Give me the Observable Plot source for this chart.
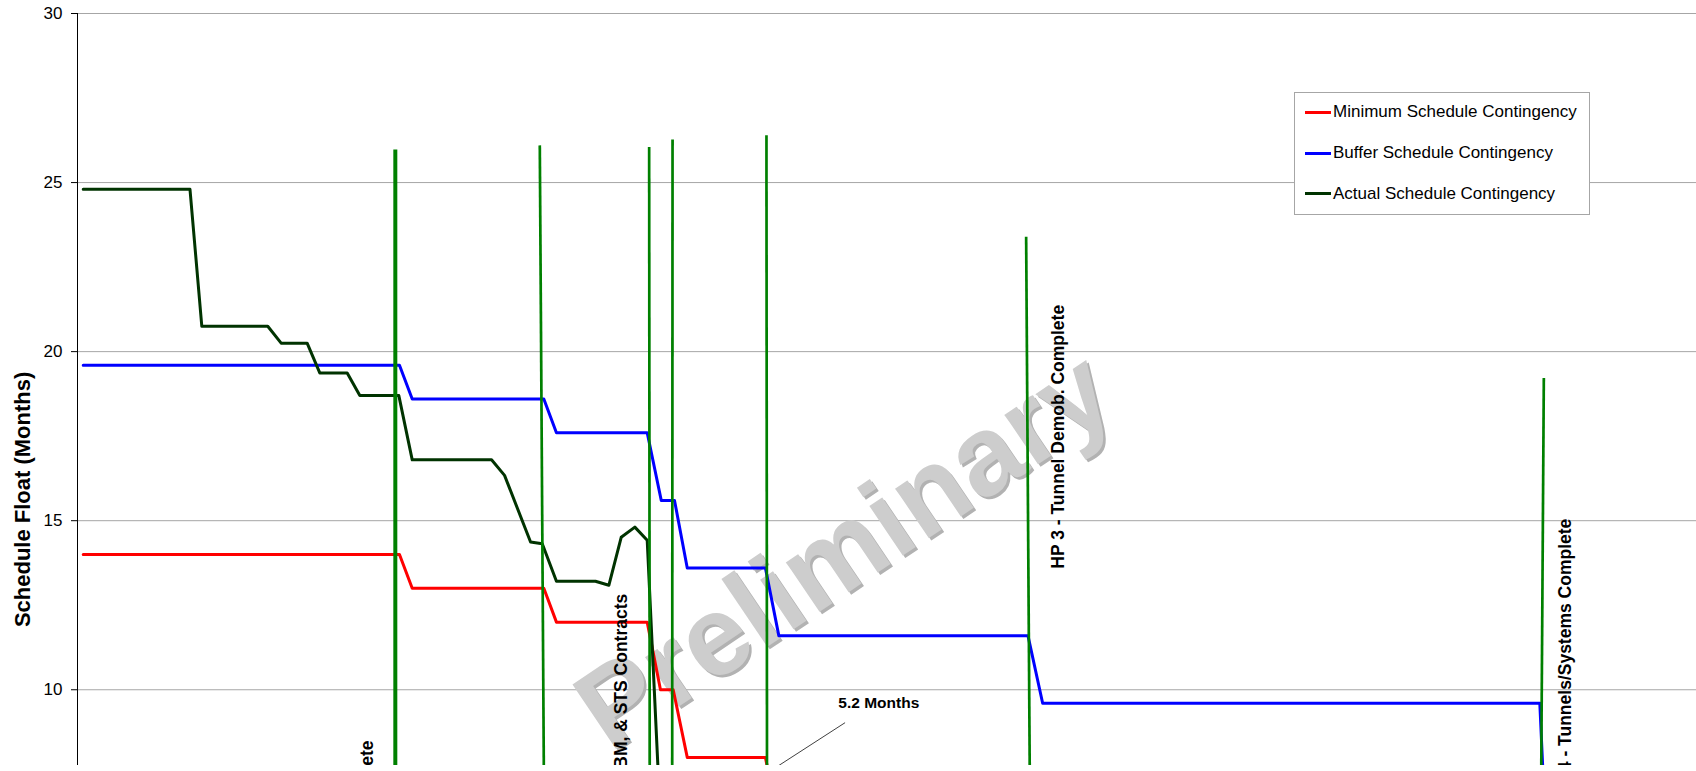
<!DOCTYPE html>
<html><head><meta charset="utf-8">
<script src="https://cdn.jsdelivr.net/npm/d3@7"></script>
<script src="https://cdn.jsdelivr.net/npm/@observablehq/plot@0.6"></script>
<style>
html,body{margin:0;padding:0;background:#fff;}
#wrap{position:relative;width:1696px;height:771px;overflow:hidden;font-family:"Liberation Sans",Arial,sans-serif;}
#legend{position:absolute;left:1294px;top:92px;width:296px;height:123px;box-sizing:border-box;border:1px solid #a6a6a6;background:#fff;}
.item{position:absolute;left:10px;height:20px;display:flex;align-items:center;font-size:17px;color:#000;white-space:nowrap;}
.sw{width:26px;height:3px;margin-right:2px;}
</style></head><body><div id="wrap"><div id="legend"></div></div>
<script>
// ---- data (x = period index, y = schedule float in months) ----
const legendLabels = ["Minimum Schedule Contingency", "Buffer Schedule Contingency", "Actual Schedule Contingency"];
const seriesColors = ["#ff0000", "#0000ff", "#003300"];

const minX = [0.44, 24.76, 25.74, 35.86, 36.83, 43.81, 44.83, 45.81, 46.89, 52.90, 53.93];
const minY = [14.0, 14.0, 13.0, 13.0, 12.0, 12.0, 10.0, 10.0, 8.0, 8.0, 6.0];

const bufX = [0.44, 24.76, 25.74, 35.86, 36.83, 43.81, 44.89, 45.91, 46.89, 52.90, 53.93, 73.09, 74.22, 112.45, 113.45];
const bufY = [19.6, 19.6, 18.6, 18.6, 17.6, 17.6, 15.6, 15.6, 13.6, 13.6, 11.6, 11.6, 9.6, 9.6, 1.2];

const actX = [0.44, 8.65, 9.56, 14.63, 15.66, 17.66, 18.63, 20.74, 21.71, 24.71, 25.74, 31.84, 32.84, 34.84, 35.74, 36.83, 39.83, 40.86, 41.81, 42.86, 43.81, 44.81];
const actY = [24.8, 24.8, 20.75, 20.75, 20.25, 20.25, 19.37, 19.37, 18.7, 18.7, 16.8, 16.8, 16.34, 14.37, 14.32, 13.21, 13.21, 13.09, 14.51, 14.81, 14.42, 6.3];

// milestone marker lines (top point and bottom point)
const msTopX = [24.44, 35.55, 43.96, 45.76, 52.98, 72.95, 112.76];
const msTopY = [25.98, 26.10, 26.05, 26.27, 26.40, 23.40, 19.22];
const msBotX = [24.44, 35.99, 44.02, 45.72, 53.04, 73.36, 112.43];
const msBotY = [0, 0, 0, 0, 0, 0, 0];

// milestone labels
const labelText = ["HP 1 - Excavation Complete", "Award TBM, & STS Contracts", "HP 3 - Tunnel Demob. Complete", "HP 4 - Tunnels/Systems Complete"];
const labelX = [22.28, 41.83, 75.41, 114.41];
const labelY = [8.50, 12.84, 13.58, 15.06];
const labelAnchor = ["end", "end", "start", "end"];

// annotation
const noteText = "5.2 Months";
const noteX = 61.62, noteY = 9.61;
const leaderX = [59.0, 49.06];
const leaderY = [9.02, 6.55];

const watermarkText = "Preliminary";
const watermarkX = 59.0, watermarkY = 14.1;

const yTicks = [10, 15, 20, 25, 30];
const yTitle = "Schedule Float (Months)";
const yTitleY = 15.63;

// ---- build ----
const toRows = (xs, ys, name) => xs.map((x, i) => ({x, y: ys[i], name}));
const minRows = toRows(minX, minY, legendLabels[0]);
const bufRows = toRows(bufX, bufY, legendLabels[1]);
const actRows = toRows(actX, actY, legendLabels[2]);
const msRows = msTopX.map((x, i) => ({x1: x, y1: msTopY[i], x2: msBotX[i], y2: msBotY[i], w: i === 0 ? 4 : 2.7}));
const labelRows = labelText.map((t, i) => ({t, x: labelX[i], y: labelY[i], a: labelAnchor[i]}));
const leaderRows = leaderX.map((x, i) => ({x, y: leaderY[i]}));

const font = "'Liberation Sans', Arial, sans-serif";

const chart = Plot.plot({
  width: 1696, height: 771,
  marginLeft: 77, marginRight: 0, marginTop: 13, marginBottom: 6,
  x: {domain: [0, 124.5], axis: null},
  y: {domain: [7.76, 30], axis: null},
  style: {fontFamily: font, fontSize: "17px", background: "white"},
  marks: [
    Plot.ruleY(yTicks, {stroke: "#a6a6a6", strokeWidth: 1}),
    Plot.text([watermarkText], {x: watermarkX, y: watermarkY, text: d => d, rotate: -34, fontSize: 113, fontWeight: "bold", fill: "#b2b2b2", dx: 2.5, dy: 2.5, clip: true}),
    Plot.text([watermarkText], {x: watermarkX, y: watermarkY, text: d => d, rotate: -34, fontSize: 113, fontWeight: "bold", fill: "#cdcdcd", clip: true}),
    Plot.ruleX([0], {stroke: "black", strokeWidth: 1}),
    Plot.axisY({ticks: yTicks, tickSize: 6, tickPadding: 9, fontSize: 17, label: null, tickFormat: d => String(d)}),
    Plot.line(minRows, {x: "x", y: "y", stroke: seriesColors[0], strokeWidth: 3, clip: true}),
    Plot.line(bufRows, {x: "x", y: "y", stroke: seriesColors[1], strokeWidth: 3, clip: true}),
    Plot.line(actRows, {x: "x", y: "y", stroke: seriesColors[2], strokeWidth: 3, clip: true}),
    Plot.link(msRows, {x1: "x1", y1: "y1", x2: "x2", y2: "y2", stroke: "#008000", strokeWidth: "w", clip: true}),
    Plot.line(leaderRows, {x: "x", y: "y", stroke: "#404040", strokeWidth: 1, clip: true}),
    Plot.text([noteText], {x: noteX, y: noteY, text: d => d, fontSize: 15.5, fontWeight: "bold", fill: "black"}),
    Plot.text(labelRows.filter(d => d.a === "end"), {x: "x", y: "y", text: "t", rotate: -90, textAnchor: "end", fontSize: 17.5, fontWeight: "bold", fill: "black", clip: true}),
    Plot.text(labelRows.filter(d => d.a === "start"), {x: "x", y: "y", text: "t", rotate: -90, textAnchor: "start", fontSize: 17.5, fontWeight: "bold", fill: "black", clip: true}),
    Plot.text([yTitle], {x: 0, y: yTitleY, text: d => d, dx: -55, rotate: -90, fontSize: 22, fontWeight: "bold", fill: "black"})
  ]
});
const wrap = document.getElementById("wrap");
wrap.insertBefore(chart, wrap.firstChild);

// legend (inside plot area, top right)
const legend = document.getElementById("legend");
const centers = [19.4, 60, 100.7];
legendLabels.forEach((lab, i) => {
  const it = document.createElement("div");
  it.className = "item";
  it.style.top = (centers[i] - 10) + "px";
  const sw = document.createElement("div");
  sw.className = "sw";
  sw.style.background = seriesColors[i];
  const tx = document.createElement("span");
  tx.textContent = lab;
  it.appendChild(sw); it.appendChild(tx);
  legend.appendChild(it);
});
</script>
</body></html>
